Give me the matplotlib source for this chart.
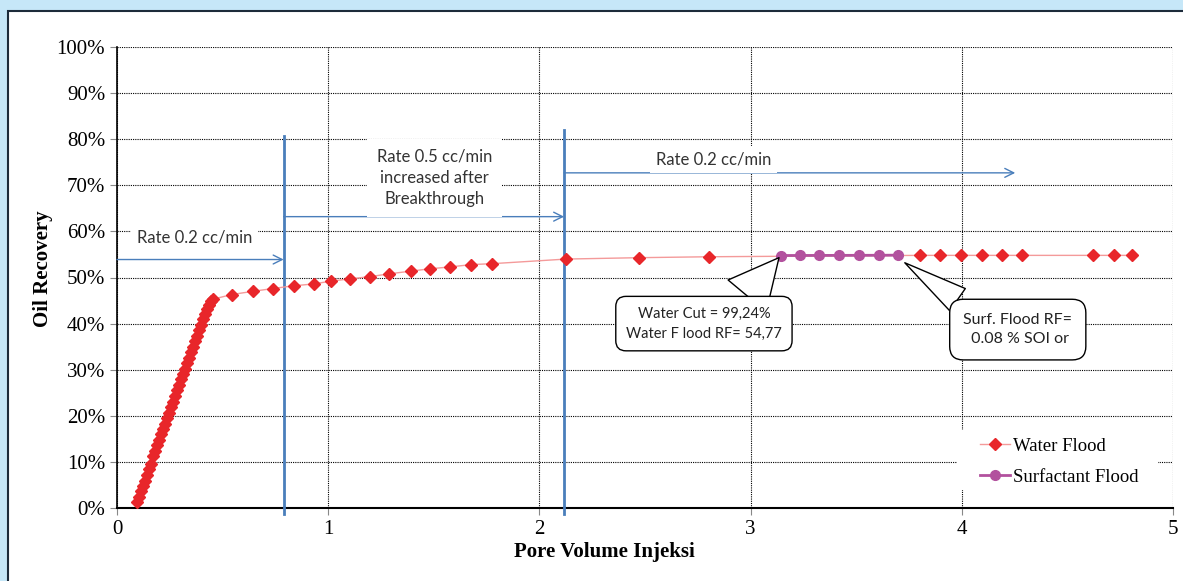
import matplotlib.pyplot as plt
from matplotlib.patches import Rectangle
from matplotlib.ticker import FuncFormatter

# Water flood data (pore volume injected, recovery %)
water_pv = [0.095, 0.104, 0.114, 0.123, 0.133, 0.142, 0.152, 0.161, 0.171, 0.180,
            0.190, 0.199, 0.209, 0.218, 0.228, 0.237, 0.247, 0.256, 0.266, 0.275,
            0.285, 0.294, 0.304, 0.313, 0.323, 0.332, 0.342, 0.351, 0.361, 0.370,
            0.380, 0.389, 0.399, 0.408, 0.418, 0.427, 0.437, 0.446, 0.455,
            0.543, 0.643, 0.737, 0.836, 0.931, 1.011, 1.101, 1.200, 1.290, 1.394,
            1.484, 1.578, 1.678, 1.777, 2.127, 2.472, 2.803,
            3.800, 3.899, 3.998, 4.097, 4.192, 4.286, 4.622, 4.721, 4.806]
water_rf = [1.2, 2.4, 3.6, 4.8, 5.9, 7.1, 8.4, 9.6, 11.3, 12.4,
            13.6, 14.8, 16.0, 17.1, 18.3, 19.5, 20.7, 21.9, 23.1, 24.3,
            25.5, 26.7, 27.9, 29.0, 30.2, 31.4, 32.6, 33.8, 35.0, 36.2,
            37.4, 38.6, 39.8, 41.0, 42.1, 43.2, 44.1, 44.8, 45.3,
            46.3, 47.0, 47.6, 48.2, 48.6, 49.2, 49.7, 50.2, 50.8, 51.4,
            51.9, 52.3, 52.8, 53.0, 54.0, 54.3, 54.5,
            54.8, 54.8, 54.8, 54.8, 54.8, 54.8, 54.8, 54.8, 54.8]

# Surfactant flood data
surf_pv = [3.143, 3.232, 3.322, 3.417, 3.511, 3.606, 3.700]
surf_rf = [54.77, 54.78, 54.79, 54.80, 54.81, 54.82, 54.85]

# injection rate change points
rate_change = [0.789, 2.117]

blue = '#4a7ebb'
serif = 'Liberation Serif'
sans = 'Lato'

fig = plt.figure(figsize=(11.83, 5.81), dpi=100)
fig.patch.set_facecolor('#c6e7f8')
fig.patches.append(Rectangle((8 / 1183, -0.05), 1.1, 1 - 11 / 581 + 0.05,
                             transform=fig.transFigure, fc='white',
                             ec='#1d2b3a', lw=1.5, zorder=-5))

ax = fig.add_axes([117 / 1183, 1 - 508 / 581, 1056 / 1183, 461 / 581])
ax.set_zorder(2)
ax.set_facecolor('white')
ax.set_xlim(0, 5)
ax.set_ylim(0, 100)
ax.set_xticks([0, 1, 2, 3, 4, 5])
ax.set_yticks(range(0, 101, 10))
ax.yaxis.set_major_formatter(FuncFormatter(lambda v, p: f'{v:.0f}%'))
ax.grid(True, color='black', linestyle=(0, (1, 1)), linewidth=0.8)
ax.set_axisbelow(True)
for s in ['top', 'right']:
    ax.spines[s].set_visible(False)
ax.spines['left'].set_linewidth(1.2)
ax.spines['bottom'].set_linewidth(1.5)
ax.tick_params(direction='out', length=5, color='#888888', labelsize=15)
for lab in ax.get_xticklabels() + ax.get_yticklabels():
    lab.set_fontfamily(serif)

ax.set_ylabel('Oil Recovery', fontfamily=serif, fontweight='bold', fontsize=15)
ax.yaxis.set_label_coords(-0.061, 0.52)
ax.set_xlabel('Pore Volume Injeksi', fontfamily=serif, fontweight='bold', fontsize=15)
ax.xaxis.set_label_coords(0.462, -0.073)

ax.plot(water_pv, water_rf, color='#f49a9a', lw=1, marker='D', ms=6.5,
        mfc='#e8262a', mec='#e8262a', label='Water Flood', zorder=4)
ax.plot(surf_pv, surf_rf, color='#b2519e', lw=2, marker='o', ms=7,
        mfc='#b2519e', mec='#b2519e', label='Surfactant Flood', zorder=5)

# rate change vertical lines
ax.plot([rate_change[0], rate_change[0]], [-1.3, 80.7], color=blue, lw=2,
        clip_on=False, zorder=3)
ax.plot([rate_change[1], rate_change[1]], [-1.3, 82.0], color=blue, lw=2,
        clip_on=False, zorder=3)

arrow_kw = dict(arrowstyle='->', color=blue, lw=1, shrinkA=0, shrinkB=0,
                mutation_scale=16)
ax.annotate('', xy=(rate_change[0], 53.9), xytext=(0, 53.9), arrowprops=arrow_kw, zorder=3)
ax.annotate('', xy=(rate_change[1], 63.2), xytext=(rate_change[0], 63.2),
            arrowprops=arrow_kw, zorder=3)
ax.annotate('', xy=(4.253, 72.7), xytext=(rate_change[1], 72.7), arrowprops=arrow_kw, zorder=3)

ax.text(0.369, 58.6, 'Rate 0.2 cc/min', ha='center', va='center', fontsize=12,
        fontfamily=sans, color='#333333', zorder=4,
        bbox=dict(boxstyle='square,pad=0.35', fc='white', ec='none'))
ax.text(1.503, 71.6, 'Rate 0.5 cc/min\nincreased after\nBreakthrough', ha='center',
        va='center', fontsize=12, fontfamily=sans, color='#333333', linespacing=1.4,
        zorder=4, bbox=dict(boxstyle='square,pad=0.6', fc='white', ec='none'))
ax.text(2.826, 75.6, 'Rate 0.2 cc/min', ha='center', va='center', fontsize=12,
        fontfamily=sans, color='#333333', zorder=4,
        bbox=dict(boxstyle='square,pad=0.35', fc='white', ec='none'))

# callouts
ax.annotate('Water Cut = 99,24%\nWater F lood RF= 54,77', xy=(surf_pv[0], surf_rf[0]),
            xytext=(2.779, 40.0), ha='center', va='center', fontsize=10.5,
            fontfamily=sans, color='#222222', zorder=6, linespacing=1.55,
            bbox=dict(boxstyle='round,pad=0.7', fc='white', ec='black', lw=1),
            arrowprops=dict(arrowstyle='wedge,tail_width=3.4', fc='white', ec='black',
                            lw=1, relpos=(0.72, 1.0), shrinkA=0, shrinkB=2))
ax.annotate('Surf. Flood RF=\n 0.08 % SOI or', xy=(surf_pv[-1] + 0.03, 53.2),
            xytext=(4.265, 38.7), ha='center', va='center', fontsize=11.5,
            fontfamily=sans, color='#222222', zorder=6, linespacing=1.5,
            bbox=dict(boxstyle='round,pad=0.85', fc='white', ec='black', lw=1),
            arrowprops=dict(arrowstyle='wedge,tail_width=1.7', fc='white', ec='black',
                            lw=1, relpos=(0.12, 1.0), shrinkA=0, shrinkB=0))

# white area behind the legend
ax.add_patch(Rectangle((0.7955, 0.039), 0.19, 0.13, transform=ax.transAxes,
                       fc='white', ec='none', zorder=6))
leg = ax.legend(loc='center left', bbox_to_anchor=(0.808, 0.1), frameon=False,
                prop={'family': serif, 'size': 13.5}, handlelength=1.6,
                handletextpad=0.2, labelspacing=0.75, borderpad=0.0)
leg.set_zorder(7)

fig.savefig('out.png', dpi=100, facecolor=fig.get_facecolor())
